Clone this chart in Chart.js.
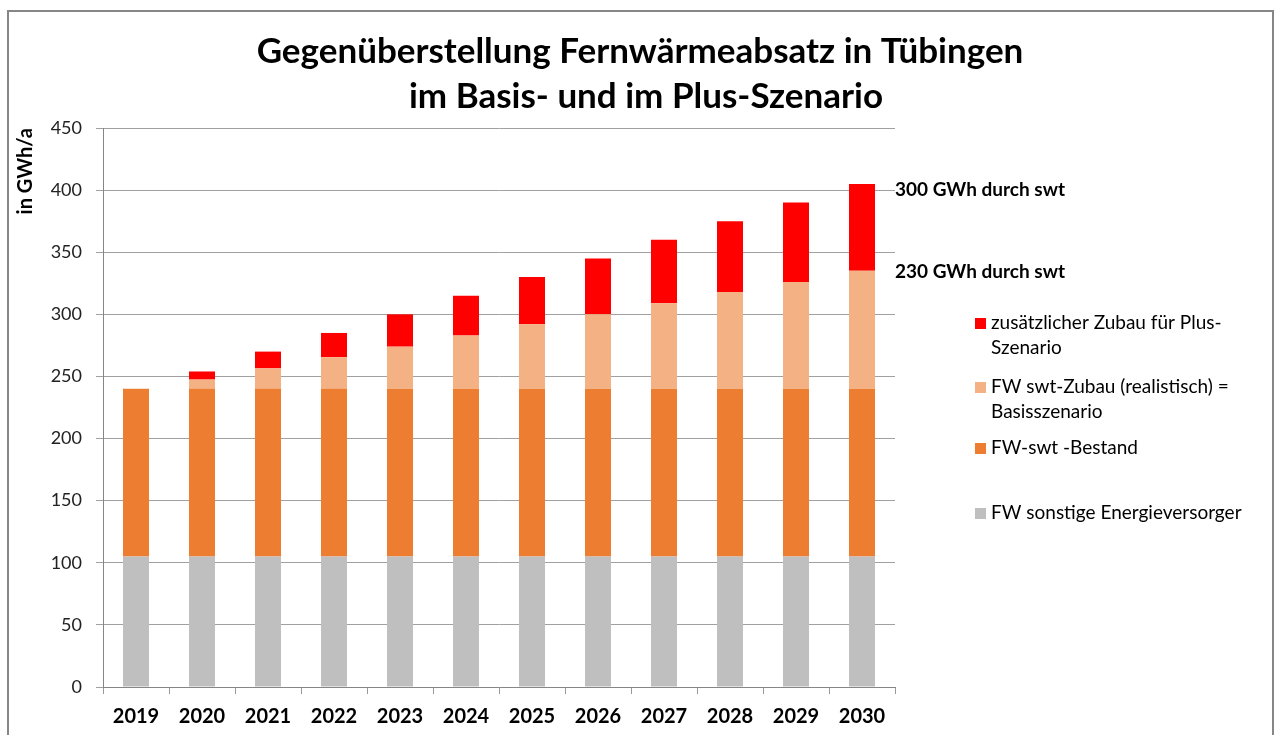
<!DOCTYPE html>
<html>
<head>
<meta charset="utf-8">
<script src="https://cdn.jsdelivr.net/npm/chart.js@4/dist/chart.umd.min.js"></script>
<style>
  html, body { margin: 0; padding: 0; background: #fff; }
  #wrap { position: relative; width: 1274px; height: 735px; }
</style>
</head>
<body>
<div id="wrap"><canvas id="c" width="1274" height="735"></canvas></div>
<script>
// ---- data ----
const years = ['2019','2020','2021','2022','2023','2024','2025','2026','2027','2028','2029','2030'];
const sonstige = [105,105,105,105,105,105,105,105,105,105,105,105];
const bestand = [135,135,135,135,135,135,135,135,135,135,135,135];
const zubauBasis = [0,7.5,16.5,25.5,34,43,52,60,69,78,86,95];
const zubauPlus = [0,6.5,13.5,19.5,26,32,38,45,51,57,64,70];
const yTicks = [0,50,100,150,200,250,300,350,400,450];
const seriesNames = [
  'FW sonstige Energieversorger',
  'FW-swt -Bestand',
  'FW swt-Zubau (realistisch) =\nBasisszenario',
  'zusätzlicher Zubau für Plus-\nSzenario'
];
const titleLines = ['Gegenüberstellung Fernwärmeabsatz in Tübingen', 'im Basis- und im Plus-Szenario'];
const notes = ['300 GWh durch swt', '230 GWh durch swt'];

const FONT = 'Lato, "Open Sans", sans-serif';
const colors = ['#BFBFBF', '#ED7D31', '#F4B183', '#FF0000'];

const framePlugin = {
  id: 'frame',
  beforeDraw(chart) {
    const ctx = chart.ctx;
    ctx.save();
    ctx.strokeStyle = '#868686';
    ctx.lineWidth = 2;
    ctx.beginPath();
    ctx.moveTo(8, 740); ctx.lineTo(8, 11); ctx.lineTo(1273, 11); ctx.lineTo(1273, 740);
    ctx.stroke();
    ctx.restore();
  }
};

const extrasPlugin = {
  id: 'extras',
  afterDraw(chart) {
    const ctx = chart.ctx;
    const y = chart.scales.y;
    const area = chart.chartArea;
    ctx.save();
    ctx.fillStyle = '#000';
    ctx.textBaseline = 'middle';
    // title centred on the page
    ctx.textAlign = 'center';
    ctx.font = 'bold 35px ' + FONT;
    ctx.fillText(titleLines[0], 640, 52);
    ctx.fillText(titleLines[1], 646, 97);
    // annotations next to last bar
    const last = years.length - 1;
    const total = sonstige[last] + bestand[last] + zubauBasis[last] + zubauPlus[last];
    const basis = sonstige[last] + bestand[last] + zubauBasis[last];
    ctx.textAlign = 'left';
    ctx.font = 'bold 19px ' + FONT;
    ctx.fillText(notes[0], area.right, y.getPixelForValue(total) + 6);
    ctx.fillText(notes[1], area.right, y.getPixelForValue(basis) + 1);
    // legend (reverse order)
    const rows = [323, 387, 448, 513];
    ctx.font = '19px ' + FONT;
    const ds = chart.data.datasets.slice().reverse();
    ds.forEach((d, i) => {
      const cy = rows[i];
      ctx.fillStyle = d.backgroundColor;
      ctx.fillRect(975, cy - 5, 11, 11);
      ctx.fillStyle = '#000';
      d.label.split('\n').forEach((line, k) => {
        ctx.fillText(line, 991, cy + k * 25);
      });
    });
    ctx.restore();
  }
};

const datasets = [sonstige, bestand, zubauBasis, zubauPlus].map((arr, i) => ({
  label: seriesNames[i],
  data: arr,
  backgroundColor: colors[i],
  borderWidth: 0,
  categoryPercentage: 1,
  barPercentage: 0.394
}));

new Chart(document.getElementById('c'), {
  type: 'bar',
  data: { labels: years, datasets },
  options: {
    responsive: false,
    animation: false,
    layout: { padding: { left: 10, right: 379, top: 128, bottom: 0 } },
    plugins: {
      legend: { display: false },
      tooltip: { enabled: false },
      title: { display: false }
    },
    scales: {
      x: {
        stacked: true,
        offset: true,
        grid: { display: true, drawOnChartArea: false, drawTicks: true, tickLength: 7, color: '#9a9a9a', offset: true },
        border: { color: '#868686', width: 1 },
        ticks: { color: '#000', font: { family: FONT, size: 20, weight: 'bold' }, padding: 11, maxRotation: 0 },
        afterFit(s) { s.height = 48; }
      },
      y: {
        stacked: true,
        min: 0, max: 450,
        afterBuildTicks(s) { s.ticks = yTicks.map(v => ({ value: v })); },
        grid: { color: '#a0a0a0', lineWidth: 1, tickLength: 7, drawTicks: true },
        border: { color: '#868686', width: 1 },
        ticks: { color: '#222', font: { family: FONT, size: 18 }, padding: 14 },
        title: {
          display: true, text: 'in GWh/a', align: 'end', color: '#000',
          font: { family: FONT, size: 20, weight: 'bold' }, padding: { top: 4, bottom: 0 }
        },
        afterFit(s) { s.width = 93; }
      }
    }
  },
  plugins: [framePlugin, extrasPlugin]
});
</script>
</body>
</html>
